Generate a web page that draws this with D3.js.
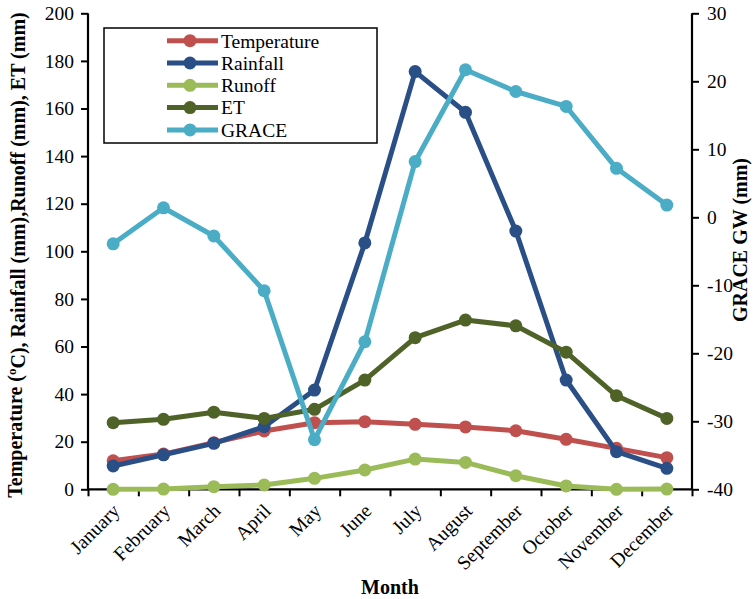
<!DOCTYPE html>
<html>
<head>
<meta charset="utf-8">
<script src="https://cdn.jsdelivr.net/npm/d3@7"></script>
<style>
  html, body { margin: 0; padding: 0; background: #fff; }
</style>
</head>
<body>
<svg id="chart" width="755" height="599"></svg>
<script>
// Monthly climate and groundwater values
const months = ["January","February","March","April","May","June","July","August","September","October","November","December"];
const temperature = [12.0, 14.8, 19.6, 24.5, 28.0, 28.4, 27.3, 26.2, 24.6, 21.0, 17.2, 13.3];
const rainfall    = [9.8, 14.5, 19.3, 26.3, 41.7, 103.5, 175.5, 158.4, 108.5, 45.9, 15.8, 8.8];
const runoff      = [0.0, 0.1, 1.1, 1.8, 4.6, 8.1, 12.7, 11.3, 5.7, 1.4, 0.0, 0.1];
const et          = [28.0, 29.4, 32.4, 29.8, 33.6, 45.9, 63.7, 71.1, 68.7, 57.6, 39.3, 29.8];
const grace       = [-3.9, 1.4, -2.75, -10.8, -32.7, -18.3, 8.2, 21.7, 18.5, 16.3, 7.2, 1.8];
const leftTicks  = [0, 20, 40, 60, 80, 100, 120, 140, 160, 180, 200];
const rightTicks = [-40, -30, -20, -10, 0, 10, 20, 30];

const series = [
  { name: "Temperature", values: temperature, color: "#C0504D", axis: "left" },
  { name: "Rainfall",    values: rainfall,    color: "#2A4F86", axis: "left" },
  { name: "Runoff",      values: runoff,      color: "#9BBB59", axis: "left" },
  { name: "ET",          values: et,          color: "#4F6228", axis: "left" },
  { name: "GRACE",       values: grace,       color: "#4BACC6", axis: "right" }
];

const FONT = "'Liberation Serif', 'Times New Roman', 'DejaVu Serif', serif";
const svg = d3.select("#chart");
const plot = { left: 88, right: 692, top: 13.3, bottom: 489.3 };

const x = d3.scaleBand().domain(months).range([plot.left, plot.right]);
const yL = d3.scaleLinear().domain([0, 200]).range([plot.bottom, plot.top]);
const yR = d3.scaleLinear().domain([-40, 30]).range([plot.bottom, plot.top]);
const cx = m => x(m) + x.bandwidth() / 2;
const plain = d => String(d);

// Left axis
const leftAxis = svg.append("g")
  .attr("transform", `translate(${plot.left},0)`)
  .call(d3.axisLeft(yL).tickValues(leftTicks).tickFormat(plain).tickSize(7).tickPadding(7));
// Right axis
const rightAxis = svg.append("g")
  .attr("transform", `translate(${plot.right},0)`)
  .call(d3.axisRight(yR).tickValues(rightTicks).tickFormat(plain).tickSize(7).tickPadding(8));
// Bottom axis: ticks on category boundaries
const xBound = d3.scaleLinear().domain([0, months.length]).range([plot.left, plot.right]);
const bottomAxis = svg.append("g")
  .attr("transform", `translate(0,${plot.bottom})`)
  .call(d3.axisBottom(xBound).ticks(months.length).tickFormat("").tickSize(7));

[leftAxis, rightAxis, bottomAxis].forEach(g => {
  g.attr("font-family", FONT).attr("font-size", 19.5);
  g.select(".domain").attr("stroke", "#000").attr("stroke-width", 2.2);
  g.selectAll(".tick line").attr("stroke", "#000").attr("stroke-width", 2);
  g.selectAll(".tick text").attr("fill", "#000");
});
leftAxis.select(".domain").attr("d", `M0,${plot.top}V${plot.bottom}`);
rightAxis.select(".domain").attr("d", `M0,${plot.top}V${plot.bottom}`);
bottomAxis.select(".domain").attr("d", `M${plot.left},0H${plot.right}`);

// Month labels
svg.append("g").attr("font-family", FONT).attr("font-size", 19.5)
  .selectAll("text").data(months).join("text")
  .attr("transform", m => `translate(${cx(m) + 3},${plot.bottom + 18}) rotate(-45)`)
  .attr("text-anchor", "end")
  .attr("dy", "0.35em")
  .text(m => m);

// Axis titles
const titles = svg.append("g").attr("font-family", FONT).attr("font-size", 20).attr("font-weight", "bold");
titles.append("text")
  .attr("transform", `translate(${22},${255}) rotate(-90)`)
  .attr("text-anchor", "middle")
  .call(t => {
    t.append("tspan").text("Temperature (");
    t.append("tspan").attr("dy", "-0.45em").attr("font-size", 13).text("o");
    t.append("tspan").attr("dy", "0.45em").text("C), Rainfall (mm),Runoff (mm), ET (mm)");
  });
titles.append("text")
  .attr("transform", `translate(${747},${240}) rotate(-90)`)
  .attr("text-anchor", "middle")
  .text("GRACE GW (mm)");
titles.append("text")
  .attr("x", (plot.left + plot.right) / 2).attr("y", 594)
  .attr("text-anchor", "middle")
  .text("Month");

// Series lines and markers
series.forEach(s => {
  const y = s.axis === "left" ? yL : yR;
  const pts = months.map((m, i) => [cx(m), y(s.values[i])]);
  const g = svg.append("g");
  g.append("path")
    .attr("d", d3.line()(pts))
    .attr("fill", "none")
    .attr("stroke", s.color)
    .attr("stroke-width", 5)
    .attr("stroke-linejoin", "round");
  g.selectAll("circle").data(pts).join("circle")
    .attr("cx", d => d[0]).attr("cy", d => d[1])
    .attr("r", 6.5)
    .attr("fill", s.color);
});

// Legend
const legend = svg.append("g").attr("font-family", FONT).attr("font-size", 19.5);
legend.append("rect")
  .attr("x", 104).attr("y", 28).attr("width", 273).attr("height", 115)
  .attr("fill", "#fff").attr("stroke", "#000").attr("stroke-width", 1.5);
series.forEach((s, i) => {
  const yy = 40.7 + i * 22.3;
  legend.append("line")
    .attr("x1", 167).attr("x2", 218).attr("y1", yy).attr("y2", yy)
    .attr("stroke", s.color).attr("stroke-width", 5);
  legend.append("circle")
    .attr("cx", 190).attr("cy", yy).attr("r", 6.5).attr("fill", s.color);
  legend.append("text")
    .attr("x", 221).attr("y", yy).attr("dy", "0.35em")
    .text(s.name);
});
</script>
</body>
</html>
